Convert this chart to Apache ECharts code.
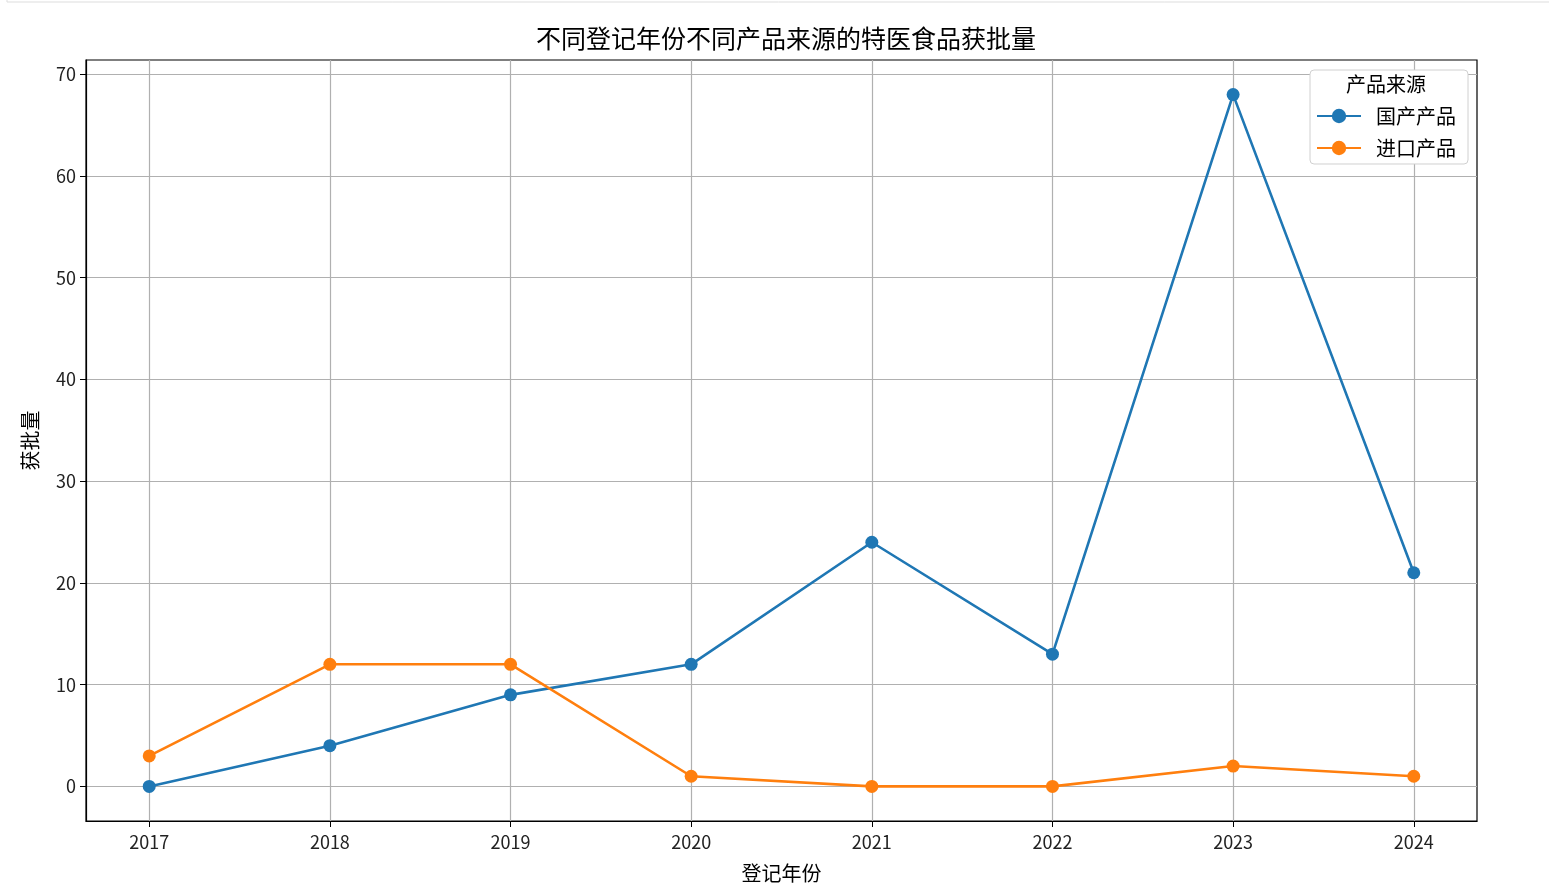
<!DOCTYPE html>
<html lang="zh">
<head>
    <meta charset="UTF-8">
    <title>特医食品获批量</title>
    <style>
        html, body { margin: 0; height: 100%; background: #fff; }
        #main { width: 1549px; height: 896px; }
    </style>
    <script src="https://cdn.jsdelivr.net/npm/echarts@6/dist/echarts.min.js"></script>
</head>
<body>
    <div id="main"></div>
    <script>
        // 数据
        const years = [2017, 2018, 2019, 2020, 2021, 2022, 2023, 2024]
        const domestic = [0, 4, 9, 12, 24, 13, 68, 21]   // 国产产品
        const imported = [3, 12, 12, 1, 0, 0, 2, 1]      // 进口产品
        const yTicks = [0, 10, 20, 30, 40, 50, 60, 70]

        const font = '"Noto Sans CJK SC", "DejaVu Sans", sans-serif'
        const chart = echarts.init(document.getElementById('main'))

        const pairs = arr => years.map((y, i) => [y, arr[i]])

        const lineSeries = (name, data, color) => ({
            name,
            type: 'line',
            data: pairs(data),
            symbol: 'circle',
            symbolSize: 13,
            color,
            lineStyle: { width: 2.6, color },
            itemStyle: { color },
            animation: false
        })

        chart.setOption({
            animation: false,
            title: {
                text: '不同登记年份不同产品来源的特医食品获批量',
                left: 781, top: 21, textAlign: 'center',
                textStyle: { fontFamily: font, fontSize: 25, fontWeight: 'normal', color: '#000' }
            },
            grid: {
                left: 86, top: 60, right: 72, bottom: 75,
                show: true, borderColor: '#000', borderWidth: 1.2
            },
            xAxis: {
                type: 'value',
                min: 2016.65, max: 2024.35,
                splitNumber: 8, minInterval: 1, maxInterval: 1,
                name: '登记年份', nameLocation: 'middle', nameGap: 42,
                nameTextStyle: { fontFamily: font, fontSize: 20, color: '#000' },
                axisLine: { show: true, onZero: false, lineStyle: { color: '#000', width: 1.2 } },
                axisTick: { show: true, length: 6, customValues: years, lineStyle: { color: '#000' } },
                axisLabel: {
                    customValues: years, margin: 12,
                    fontFamily: font, fontSize: 18, color: '#222',
                    formatter: v => Number.isInteger(v) ? String(v) : ''
                },
                splitLine: { show: true, lineStyle: { color: '#b0b0b0', width: 1.2 } }
            },
            yAxis: {
                type: 'value',
                min: -3.4, max: 71.4,
                splitNumber: 7, minInterval: 10, maxInterval: 10,
                name: '获批量', nameLocation: 'middle', nameGap: 46, nameRotate: 90,
                nameTextStyle: { fontFamily: font, fontSize: 20, color: '#000' },
                axisLine: { show: true, lineStyle: { color: '#000', width: 1.2 } },
                axisTick: { show: true, length: 6, customValues: yTicks, lineStyle: { color: '#000' } },
                axisLabel: {
                    customValues: yTicks, margin: 10,
                    fontFamily: font, fontSize: 18, color: '#222',
                    formatter: v => (v % 10 === 0) ? String(v) : ''
                },
                splitLine: { show: true, lineStyle: { color: '#b0b0b0', width: 1.2 } }
            },
            legend: {
                orient: 'vertical',
                left: 1310, top: 70,
                padding: [36, 12, 6, 6],
                itemGap: 12,
                itemWidth: 44, itemHeight: 18,
                backgroundColor: '#fff',
                borderColor: '#d0d0d0', borderWidth: 1, borderRadius: 4,
                textStyle: { fontFamily: font, fontSize: 20, color: '#000', padding: [0, 0, 0, 10] },
                data: ['国产产品', '进口产品']
            },
            graphic: [
                {
                    type: 'text', left: 1346, top: 74, z: 100,
                    style: { text: '产品来源', font: '20px ' + font, fill: '#000' }
                },
                {
                    type: 'rect', z: -10,
                    shape: { x: 7, y: -10, width: 1560, height: 12 },
                    style: { fill: 'none', stroke: '#dddddd', lineWidth: 1 }
                }
            ],
            series: [
                lineSeries('国产产品', domestic, '#1f77b4'),
                lineSeries('进口产品', imported, '#ff7f0e')
            ]
        })
    </script>
</body>
</html>
